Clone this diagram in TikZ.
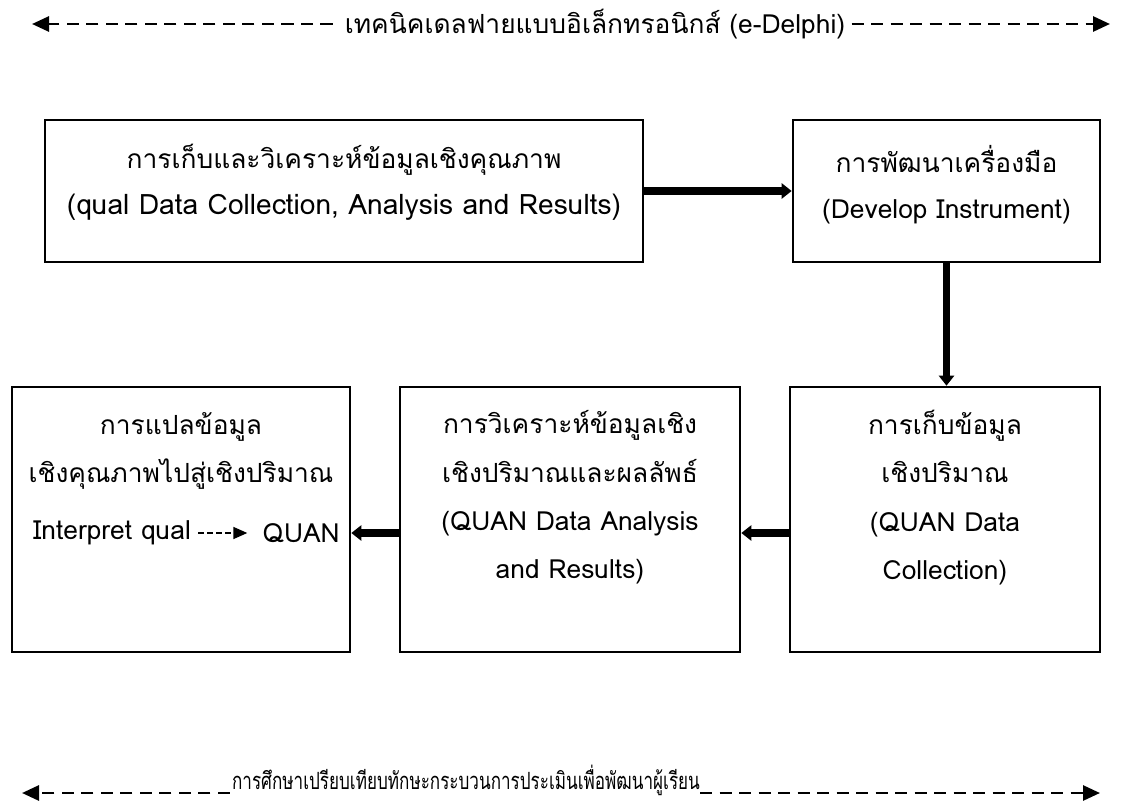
\documentclass[tikz,border=0pt]{standalone}
\usepackage{fontspec}
\newfontfamily\thaifont[Script=Thai]{Loma}
\newfontfamily\thaicond[Script=Thai,FakeStretch=0.72]{Loma}
\usetikzlibrary{positioning,arrows.meta}

\tikzset{
  stage/.style={draw, rectangle, line width=1.5pt, inner sep=0pt},
  boxtext/.style={inner sep=0pt, align=center, font=\thaifont\fontsize{15}{26}\selectfont},
  lowtext/.style={boxtext, font=\thaifont\fontsize{15}{27.5}\selectfont},
  thickarrow/.style={line width=4.2pt, -{Triangle[length=0.2cm,width=0.3cm]}},
  spanarrow/.style={line width=1.6pt, dash pattern=on 0.24cm off 0.15cm, -{Triangle[length=0.34cm,width=0.3cm]}},
  minidash/.style={line width=0.9pt, dash pattern=on 0.11cm off 0.07cm, -{Triangle[length=0.28cm,width=0.24cm]}},
}

\begin{document}
\begin{tikzpicture}
\useasboundingbox (0,0) rectangle (22.54,-16.02);

% top row
\node[stage, minimum width=11.96cm, minimum height=2.84cm] (qualbox) at (6.88,-3.82) {};
\node[stage, minimum width=6.14cm, minimum height=2.84cm] (devbox) at (18.93,-3.82) {};
\node[boxtext] (qualtxt) at ([yshift=0.17cm]qualbox.center) {การเก็บและวิเคราะห์ข้อมูลเชิงคุณภาพ\\{\fontsize{16}{26}\selectfont(qual Data Collection, Analysis and Results)}};
\node[boxtext] (devtxt) at ([yshift=0.12cm]devbox.center) {การพัฒนาเครื่องมือ\\(Develop Instrument)};

% bottom row
\node[stage, minimum width=6.2cm, minimum height=5.3cm] (colbox) at (18.9,-10.39) {};
\node[stage, minimum width=6.8cm, minimum height=5.3cm] (anabox) at (11.4,-10.39) {};
\node[stage, minimum width=6.76cm, minimum height=5.3cm] (intbox) at (3.62,-10.39) {};
\node[lowtext] (coltxt) at ([yshift=0.44cm]colbox.center) {การเก็บข้อมูล\\เชิงปริมาณ\\(QUAN Data\\Collection)};
\node[lowtext] (anatxt) at ([yshift=0.44cm]anabox.center) {การวิเคราะห์ข้อมูลเชิง\\เชิงปริมาณและผลลัพธ์\\(QUAN Data Analysis\\and Results)};
\node[lowtext] (inttxt) at ([yshift=1.37cm]intbox.center) {การแปลข้อมูล\\เชิงคุณภาพไปสู่เชิงปริมาณ};
\node[boxtext, anchor=west] (iqual) at ([xshift=0.44cm,yshift=-0.27cm]intbox.west) {Interpret qual};
\node[boxtext, anchor=west] (quan) at ([xshift=1.42cm]iqual.east) {QUAN};
\draw[minidash] ([xshift=0.14cm]iqual.east) -- ([xshift=-0.3cm]quan.west);

% flow between the stages
\draw[thickarrow] (qualbox.east) -- (devbox.west);
\draw[thickarrow] (devbox.south) -- (devbox.south |- colbox.north);
\draw[thickarrow] ([yshift=-0.27cm]colbox.west) -- ([yshift=-0.27cm]anabox.east);
\draw[thickarrow] ([yshift=-0.27cm]anabox.west) -- ([yshift=-0.27cm]intbox.east);

% span lines
\node[boxtext] (delphi) at (11.9,-0.48) {เทคนิคเดลฟายแบบอิเล็กทรอนิกส์ (e-Delphi)};
\coordinate (delphil) at (0.64,-0.48);
\coordinate (delphir) at (22.2,-0.48);
\draw[spanarrow] ([xshift=-0.24cm]delphi.west) -- (delphil);
\draw[spanarrow] ([xshift=0.12cm]delphi.east) -- (delphir);

\node[boxtext, font=\thaicond\fontsize{13.5}{16}\selectfont] (compare) at (9.32,-15.6) {การศึกษาเปรียบเทียบทักษะกระบวนการประเมินเพื่อพัฒนาผู้เรียน};
\coordinate (comparel) at (0.44,-15.86);
\coordinate (comparer) at (22.0,-15.86);
\draw[spanarrow] ([xshift=-0.04cm]compare.west |- comparel) -- (comparel);
\draw[spanarrow] (compare.east |- comparer) -- (comparer);
\end{tikzpicture}
\end{document}
